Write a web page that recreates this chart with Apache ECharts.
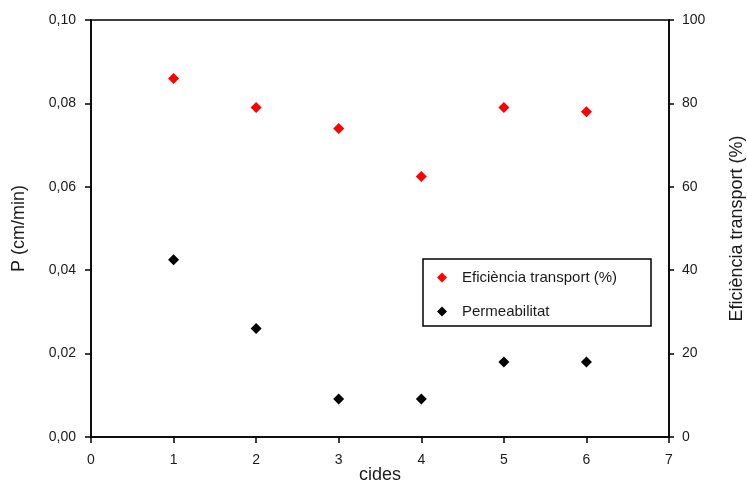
<!DOCTYPE html>
<html>
<head>
<meta charset="utf-8">
<script src="https://cdn.jsdelivr.net/npm/echarts@6/dist/echarts.min.js"></script>
<style>
  html, body { margin: 0; padding: 0; background: #fff; }
  #chart { width: 747px; height: 483px; }
</style>
</head>
<body>
<div id="chart"></div>
<script>
// Cycles on the x axis
const cycles = [1, 2, 3, 4, 5, 6];
// Transport efficiency (%), right axis
const efficiency = [86, 79, 74, 62.5, 79, 78];
// Permeability P (cm/min), left axis
const permeability = [0.0425, 0.026, 0.0091, 0.0091, 0.018, 0.018];

const FONT = '"Liberation Sans", Arial, sans-serif';
const TXT = '#1a1a1a';
const comma = (v, d) => v.toFixed(d).replace('.', ',');

const chart = echarts.init(document.getElementById('chart'));
chart.setOption({
  animation: false,
  backgroundColor: '#fff',
  grid: {
    left: 91, top: 20, right: 78, bottom: 46,
    outerBoundsMode: 'none', containLabel: false,
    show: true, borderColor: '#000', borderWidth: 1.5, backgroundColor: 'transparent'
  },
  legend: {
    orient: 'vertical',
    left: 432, top: 265,
    itemGap: 19,
    itemWidth: 10, itemHeight: 10,
    icon: 'diamond',
    textStyle: { fontFamily: FONT, fontSize: 15, color: TXT, padding: [0, 0, 0, 10] },
    data: ['Eficiència transport (%)', 'Permeabilitat']
  },
  graphic: [{
    type: 'rect',
    shape: { x: 423, y: 259, width: 228, height: 67 },
    style: { fill: 'transparent', stroke: '#000', lineWidth: 1.5 },
    z: 0
  }],
  xAxis: {
    type: 'value', min: 0, max: 7, interval: 1,
    name: 'cides', nameLocation: 'middle', nameGap: 29, nameMoveOverlap: false,
    nameTextStyle: { fontFamily: FONT, fontSize: 18, color: TXT },
    axisLine: { show: true, onZero: false, lineStyle: { color: '#000', width: 1.5 } },
    axisTick: { show: true, length: 6, lineStyle: { color: '#000', width: 1.5 } },
    axisLabel: { margin: 16, fontFamily: FONT, fontSize: 14, color: TXT },
    splitLine: { show: false }
  },
  yAxis: [{
    type: 'value', min: 0, max: 0.1, interval: 0.02, position: 'left',
    name: 'P (cm/min)', nameLocation: 'middle', nameGap: 63, nameRotate: 90,
    nameTextStyle: { fontFamily: FONT, fontSize: 18, color: TXT },
    axisLine: { show: true, lineStyle: { color: '#000', width: 1.5 } },
    axisTick: { show: true, length: 6, lineStyle: { color: '#000', width: 1.5 } },
    axisLabel: { margin: 15, fontFamily: FONT, fontSize: 14, color: TXT,
      formatter: v => comma(v, 2) },
    splitLine: { show: false }
  }, {
    type: 'value', min: 0, max: 100, interval: 20, position: 'right',
    name: 'Eficiència transport (%)', nameLocation: 'middle', nameGap: 59, nameRotate: 90,
    nameTextStyle: { fontFamily: FONT, fontSize: 18, color: TXT },
    axisLine: { show: true, lineStyle: { color: '#000', width: 1.5 } },
    axisTick: { show: true, length: 5, lineStyle: { color: '#000', width: 1.5 } },
    axisLabel: { margin: 13, fontFamily: FONT, fontSize: 14, color: TXT },
    splitLine: { show: false }
  }],
  series: [{
    name: 'Eficiència transport (%)',
    type: 'scatter', yAxisIndex: 1,
    symbol: 'diamond', symbolSize: 11,
    itemStyle: { color: '#ff0000', opacity: 1 },
    data: cycles.map((c, i) => [c, efficiency[i]])
  }, {
    name: 'Permeabilitat',
    type: 'scatter', yAxisIndex: 0,
    symbol: 'diamond', symbolSize: 11,
    itemStyle: { color: '#000', opacity: 1 },
    data: cycles.map((c, i) => [c, permeability[i]])
  }]
});
</script>
</body>
</html>
